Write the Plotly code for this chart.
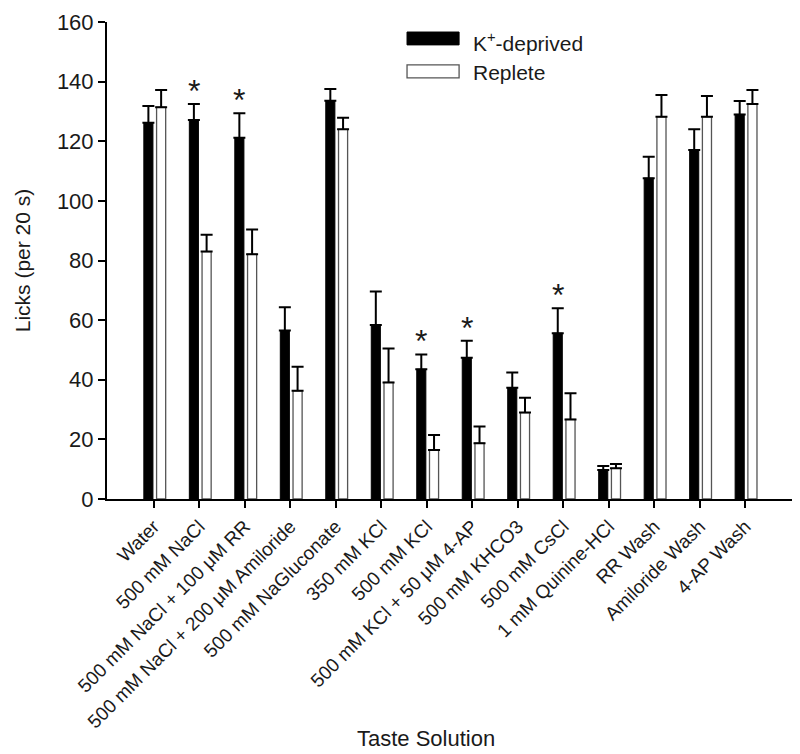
import plotly.graph_objects as go

categories = ["Water", "500 mM NaCl", "500 mM NaCl + 100 μM RR",
              "500 mM NaCl + 200 μM Amiloride", "500 mM NaGluconate",
              "350 mM KCl", "500 mM KCl", "500 mM KCl + 50 μM 4-AP",
              "500 mM KHCO3", "500 mM CsCl", "1 mM Quinine-HCl",
              "RR Wash", "Amiloride Wash", "4-AP Wash"]
deprived = [126.2, 127.1, 121.2, 56.5, 133.6, 58.4, 43.5, 47.4, 37.3, 55.6, 9.7, 107.6, 117.1, 129.0]
deprived_sem = [5.6, 5.4, 8.2, 7.8, 3.9, 11.2, 5.0, 5.7, 5.1, 8.4, 1.4, 7.2, 6.9, 4.5]
replete = [131.4, 83.0, 82.1, 36.3, 124.0, 39.1, 16.4, 18.7, 29.0, 26.7, 10.3, 128.2, 128.2, 132.5]
replete_sem = [5.8, 5.6, 8.3, 8.1, 3.9, 11.4, 5.1, 5.6, 5.0, 8.8, 1.4, 7.3, 7.0, 4.7]
significant = [False, True, True, False, False, False, True, True, False, True, False, False, False, False]
y_ticks = [0, 20, 40, 60, 80, 100, 120, 140, 160]

idx = list(range(len(categories)))
FONT = "Liberation Sans, Arial, sans-serif"
TXT = "#1a1a1a"

fig = go.Figure()
fig.add_trace(go.Bar(
    x=idx, y=deprived, width=0.2, offset=-0.22,
    marker=dict(color="black", line=dict(color="black", width=1)),
    error_y=dict(type="data", array=deprived_sem, arrayminus=[0]*len(idx), symmetric=False,
                 color="black", thickness=2, width=6),
    name="K+-deprived", showlegend=False))
fig.add_trace(go.Bar(
    x=idx, y=replete, width=0.2, offset=0.06,
    marker=dict(color="white", line=dict(color="#555555", width=1.3)),
    error_y=dict(type="data", array=replete_sem, arrayminus=[0]*len(idx), symmetric=False,
                 color="black", thickness=2, width=6),
    name="Replete", showlegend=False))

for i, s in enumerate(significant):
    if s:
        fig.add_annotation(x=i - 0.12, y=deprived[i] + deprived_sem[i], text="*",
                           showarrow=False, yanchor="bottom", yshift=-7,
                           font=dict(family=FONT, size=32, color=TXT))

# legend drawn manually
fig.add_shape(type="rect", xref="paper", yref="paper", x0=0.438, x1=0.514, y0=0.952, y1=0.979,
              fillcolor="black", line=dict(color="black", width=1))
fig.add_shape(type="rect", xref="paper", yref="paper", x0=0.438, x1=0.514, y0=0.883, y1=0.910,
              fillcolor="white", line=dict(color="#555555", width=1.3))
fig.add_annotation(xref="paper", yref="paper", x=0.531, y=0.958, text="K<sup>+</sup>-deprived",
                   showarrow=False, xanchor="left", yanchor="middle",
                   font=dict(family=FONT, size=21, color=TXT))
fig.add_annotation(xref="paper", yref="paper", x=0.531, y=0.895, text="Replete",
                   showarrow=False, xanchor="left", yanchor="middle",
                   font=dict(family=FONT, size=21, color=TXT))

fig.add_annotation(xref="paper", yref="paper", x=0.466, y=-0.503, text="Taste Solution",
                   showarrow=False, xanchor="center", yanchor="middle",
                   font=dict(family=FONT, size=22, color=TXT))

fig.update_layout(
    width=800, height=754,
    margin=dict(l=107, r=8, t=22, b=255, autoexpand=False),
    plot_bgcolor="white", paper_bgcolor="white",
    font=dict(family=FONT, color=TXT),
    barmode="overlay",
)
fig.update_xaxes(
    range=[-1.03, 14.03], tickmode="array", tickvals=idx, ticktext=categories,
    tickangle=-45, tickfont=dict(size=19, family=FONT, color=TXT), automargin=False,
    showline=True, linecolor="black", linewidth=2, ticks="outside", ticklen=7,
    tickwidth=2, tickcolor="black", showgrid=False, zeroline=False)
fig.update_yaxes(
    range=[0, 160], tickvals=y_ticks, tickfont=dict(size=22, family=FONT, color=TXT),
    automargin=False,
    showline=True, linecolor="black", linewidth=2, ticks="outside", ticklen=7,
    tickwidth=2, tickcolor="black", showgrid=False, zeroline=False,
    title=dict(text="Licks (per 20 s)", font=dict(size=21, family=FONT, color=TXT), standoff=21))

fig.write_html("out.html", config={"displayModeBar": False},
               post_script="document.body.style.margin='0';document.body.style.overflow='hidden';")
